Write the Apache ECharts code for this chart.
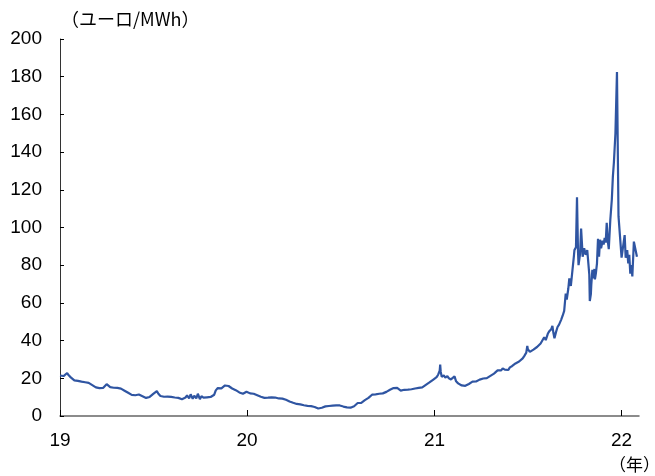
<!DOCTYPE html>
<html>
<head>
<meta charset="utf-8">
<script src="https://cdn.jsdelivr.net/npm/echarts@6/dist/echarts.min.js"></script>
<style>
html,body{margin:0;padding:0;background:#fff;}
#chart{width:655px;height:476px;}
</style>
</head>
<body>
<div id="chart"></div>
<script>
// ---- data (euro/MWh) ----
var dates2019 = ['2019-01-01','2019-01-04','2019-01-08','2019-01-11','2019-01-15','2019-01-18','2019-01-22','2019-01-25','2019-01-29','2019-02-01','2019-02-05','2019-02-08','2019-02-12','2019-02-15','2019-02-19','2019-02-22','2019-02-26','2019-03-01','2019-03-05','2019-03-08','2019-03-12','2019-03-15','2019-03-19','2019-03-22','2019-03-26','2019-03-29','2019-04-02','2019-04-05','2019-04-09','2019-04-12','2019-04-16','2019-04-19','2019-04-23','2019-04-26','2019-04-30','2019-05-03','2019-05-07','2019-05-10','2019-05-14','2019-05-17','2019-05-21','2019-05-24','2019-05-28','2019-05-31','2019-06-04','2019-06-07','2019-06-11','2019-06-14','2019-06-18','2019-06-21','2019-06-25','2019-06-28','2019-07-02','2019-07-05','2019-07-09','2019-07-12','2019-07-16','2019-07-19','2019-07-23','2019-07-26','2019-07-30','2019-08-02','2019-08-06','2019-08-09','2019-08-13','2019-08-16','2019-08-20','2019-08-23','2019-08-27','2019-08-30','2019-09-03','2019-09-06','2019-09-10','2019-09-13','2019-09-17','2019-09-20','2019-09-24','2019-09-27','2019-10-01','2019-10-04','2019-10-08','2019-10-11','2019-10-15','2019-10-18','2019-10-22','2019-10-25','2019-10-29','2019-11-01','2019-11-05','2019-11-08','2019-11-12','2019-11-15','2019-11-19','2019-11-22','2019-11-26','2019-11-29','2019-12-03','2019-12-06','2019-12-10','2019-12-13','2019-12-17','2019-12-20','2019-12-24','2019-12-27','2019-12-31'];
var values2019 = [21.5,22.3,21.2,22.0,22.8,21.6,20.5,19.6,18.9,18.3,18.6,17.8,18.2,17.4,17.9,17.2,17.6,17.0,16.4,15.8,15.2,15.6,14.8,14.5,14.9,15.8,16.9,16.0,15.3,15.6,15.0,15.4,14.9,15.1,14.5,14.0,13.4,12.9,12.3,11.8,11.2,10.7,11.0,10.6,11.4,10.9,10.5,10.0,9.6,9.3,10.1,10.9,11.7,12.6,13.2,11.8,10.6,11.1,10.2,10.7,10.3,10.8,10.1,10.5,9.8,10.4,9.6,9.9,8.9,8.2,9.8,10.9,9.4,11.5,9.1,10.8,9.3,11.8,8.9,10.5,9.7,10.6,9.9,10.4,10.1,10.6,11.3,13.6,14.8,15.0,14.7,15.4,16.2,16.6,15.9,15.2,14.6,14.0,13.7,13.1,12.5,12.1,11.8,12.4,12.9];

var dates2020 = ['2020-01-03','2020-01-07','2020-01-10','2020-01-14','2020-01-17','2020-01-21','2020-01-24','2020-01-28','2020-01-31','2020-02-04','2020-02-07','2020-02-11','2020-02-14','2020-02-18','2020-02-21','2020-02-25','2020-02-28','2020-03-03','2020-03-06','2020-03-10','2020-03-13','2020-03-17','2020-03-20','2020-03-24','2020-03-27','2020-03-31','2020-04-03','2020-04-07','2020-04-10','2020-04-14','2020-04-17','2020-04-21','2020-04-24','2020-04-28','2020-05-01','2020-05-05','2020-05-08','2020-05-12','2020-05-15','2020-05-19','2020-05-22','2020-05-26','2020-05-29','2020-06-02','2020-06-05','2020-06-09','2020-06-12','2020-06-16','2020-06-19','2020-06-23','2020-06-26','2020-06-30','2020-07-03','2020-07-07','2020-07-10','2020-07-14','2020-07-17','2020-07-21','2020-07-24','2020-07-28','2020-07-31','2020-08-04','2020-08-07','2020-08-11','2020-08-14','2020-08-18','2020-08-21','2020-08-25','2020-08-28','2020-09-01','2020-09-04','2020-09-08','2020-09-11','2020-09-15','2020-09-18','2020-09-22','2020-09-25','2020-09-29','2020-10-02','2020-10-06','2020-10-09','2020-10-13','2020-10-16','2020-10-20','2020-10-23','2020-10-27','2020-10-30','2020-11-03','2020-11-06','2020-11-10','2020-11-13','2020-11-17','2020-11-20','2020-11-24','2020-11-27','2020-12-01','2020-12-04','2020-12-08','2020-12-11','2020-12-15','2020-12-18','2020-12-22','2020-12-25','2020-12-29'];
var values2020 = [12.6,12.0,11.5,11.8,11.2,11.0,10.6,10.2,9.8,9.6,9.3,9.7,9.5,9.9,9.6,9.8,9.4,9.3,9.0,9.2,8.8,8.6,8.1,7.7,7.3,7.0,6.8,6.4,6.7,6.2,6.0,5.7,5.9,5.4,5.6,5.2,5.0,4.8,4.5,4.0,3.7,4.4,4.7,5.1,5.4,5.3,5.7,5.5,5.9,5.6,5.8,5.6,5.2,5.0,4.8,4.6,4.9,4.4,4.7,5.2,6.0,6.9,7.3,7.0,7.8,8.4,8.1,9.6,10.5,11.3,11.0,11.5,11.2,11.8,12.2,12.0,12.5,12.8,13.2,13.9,14.3,14.8,15.2,14.9,14.1,13.5,13.8,13.9,13.5,14.0,13.6,14.2,13.7,14.6,15.3,14.9,15.6,15.2,16.0,16.5,17.2,17.8,18.3,19.2];

var dates2021 = ['2021-01-01','2021-01-05','2021-01-08','2021-01-11','2021-01-12','2021-01-13','2021-01-15','2021-01-19','2021-01-22','2021-01-26','2021-01-29','2021-02-02','2021-02-05','2021-02-09','2021-02-12','2021-02-16','2021-02-19','2021-02-23','2021-02-26','2021-03-02','2021-03-05','2021-03-09','2021-03-12','2021-03-16','2021-03-19','2021-03-23','2021-03-26','2021-03-30','2021-04-02','2021-04-06','2021-04-09','2021-04-13','2021-04-16','2021-04-20','2021-04-23','2021-04-27','2021-04-30','2021-05-04','2021-05-07','2021-05-11','2021-05-14','2021-05-18','2021-05-21','2021-05-25','2021-05-28','2021-06-01','2021-06-04','2021-06-08','2021-06-11','2021-06-15','2021-06-18','2021-06-22','2021-06-25','2021-06-29','2021-07-01','2021-07-02','2021-07-06','2021-07-09','2021-07-13','2021-07-16','2021-07-20','2021-07-23','2021-07-27','2021-07-30','2021-08-03','2021-08-06','2021-08-10','2021-08-13','2021-08-17','2021-08-19','2021-08-21','2021-08-23','2021-08-26','2021-08-29','2021-09-01','2021-09-05','2021-09-08','2021-09-11','2021-09-14','2021-09-16','2021-09-19','2021-09-21','2021-09-24','2021-09-27','2021-09-30','2021-10-01','2021-10-04','2021-10-06','2021-10-08','2021-10-09','2021-10-12','2021-10-14','2021-10-16','2021-10-17','2021-10-20','2021-10-23','2021-10-26','2021-10-28','2021-10-30','2021-10-31','2021-11-02','2021-11-03','2021-11-05','2021-11-07','2021-11-09','2021-11-10','2021-11-12','2021-11-14','2021-11-16','2021-11-18','2021-11-20','2021-11-22','2021-11-25','2021-11-27','2021-11-29','2021-12-01','2021-12-03','2021-12-05','2021-12-07','2021-12-10','2021-12-13','2021-12-15','2021-12-17','2021-12-20','2021-12-23','2021-12-26','2021-12-29'];
var values2021 = [19.8,20.6,21.9,24.0,27.3,23.5,20.8,21.6,20.4,21.2,20.0,19.4,20.3,21.0,18.4,17.3,16.7,16.2,15.9,16.0,16.5,17.0,17.6,18.2,18.5,18.3,18.9,19.3,19.5,19.9,20.3,20.1,20.8,21.3,21.6,22.5,23.4,24.2,24.8,24.2,25.3,24.6,25.0,24.4,25.8,26.4,27.4,27.9,28.6,28.9,29.6,30.6,31.8,33.6,37.2,35.5,34.0,34.5,35.2,36.0,36.6,37.4,38.5,39.5,41.8,40.3,43.6,45.0,46.2,47.8,44.0,41.2,44.5,47.2,48.5,51.0,53.2,55.8,65.0,61.8,67.5,73.0,69.0,77.0,85.0,88.0,89.5,116.0,87.0,80.0,86.0,99.5,90.0,84.5,89.0,85.5,88.0,89.0,75.0,61.0,64.5,70.0,77.5,73.0,78.0,72.5,76.0,81.0,94.0,84.5,93.5,89.0,93.0,91.0,94.5,92.0,102.5,93.0,88.5,104.0,115.0,127.0,134.5,150.0,182.5,106.0,105.0];

var dates2022 = ['2022-01-01','2022-01-04','2022-01-07','2022-01-09','2022-01-12','2022-01-14','2022-01-16','2022-01-18','2022-01-20','2022-01-22','2022-01-25','2022-01-28','2022-01-31'];
var values2022 = [84.0,84.0,96.0,84.0,88.0,81.0,85.5,75.5,80.0,74.0,92.5,92.0,84.5];

var yearTicks = ['2019-01-01','2020-01-01','2021-01-01','2022-01-01'];
var xStart = '2019-01-01';
var xEnd = '2022-02-04';
var unitLabel = '（ユーロ/MWh）';
var yearLabel = '（年）';

// ---- build ----
function ts(s){ var p = s.split('-'); return Date.UTC(+p[0], +p[1]-1, +p[2]); }
var allDates = dates2019.concat(dates2020, dates2021, dates2022);
var allValues = values2019.concat(values2020, values2021, values2022);
var seriesData = allDates.map(function(d,i){ return [ts(d), allValues[i]]; });
var tickVals = yearTicks.map(ts);

var chart = echarts.init(document.getElementById('chart'), null, {renderer:'canvas'});
var font = '"Liberation Sans", Arial, sans-serif';
chart.setOption({
  animation: false,
  backgroundColor: '#ffffff',
  grid: {left: 60, right: 16, top: 39, bottom: 60, containLabel: false},
  xAxis: {
    type: 'value',
    min: ts(xStart), max: ts(xEnd),
    splitLine: {show: false},
    axisLine: {show: true, onZero: false, lineStyle: {color: '#666666', width: 1.5}},
    axisTick: {show: true, inside: true, length: 6, customValues: tickVals, lineStyle: {color: '#000', width: 1}},
    axisLabel: {
      customValues: tickVals,
      margin: 15,
      fontSize: 19, fontFamily: font, color: '#000',
      formatter: function(v){ return String(new Date(v).getUTCFullYear() % 100); }
    }
  },
  yAxis: {
    type: 'value',
    min: 0, max: 200, interval: 20,
    splitLine: {show: false},
    axisLine: {show: true, lineStyle: {color: '#333333', width: 1}},
    axisTick: {show: true, inside: true, length: 4, lineStyle: {color: '#000'}},
    axisLabel: {margin: 18, fontSize: 19, fontFamily: font, color: '#000'}
  },
  graphic: [
    {type: 'text', left: 61, top: 10, style: {text: unitLabel, font: '18px "Noto Sans CJK JP"', fill: '#000'}},
    {type: 'text', left: 609, top: 456, style: {text: yearLabel, font: '17px "Noto Sans CJK JP"', fill: '#000'}}
  ],
  series: [{
    type: 'line',
    data: seriesData,
    showSymbol: false,
    symbol: 'none',
    lineStyle: {color: '#2f55a2', width: 2.2},
    z: 3
  }]
});
</script>
</body>
</html>
